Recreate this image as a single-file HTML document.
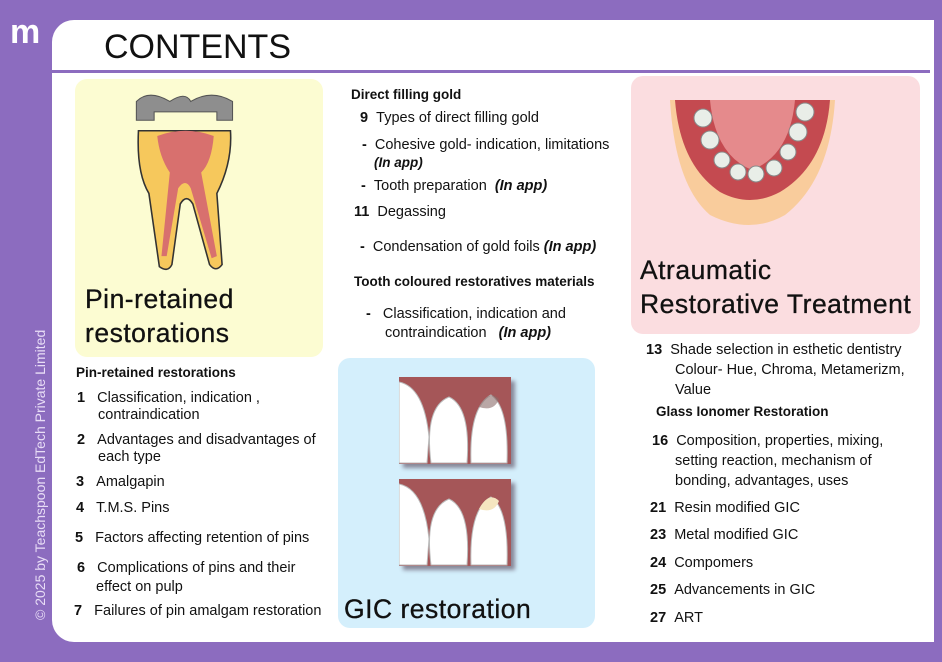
<!DOCTYPE html>
<html><head><meta charset="utf-8"><style>
body{margin:0;width:942px;height:662px;background:#8c6cbf;position:relative;overflow:hidden;font-family:"Liberation Sans","DejaVu Sans",sans-serif;color:#111}
.panel{position:absolute;left:52px;top:20px;width:882px;height:622px;background:#fff;border-radius:22px 0 0 22px}
.t{position:absolute;font-size:14.5px;white-space:nowrap;line-height:20px}
.b{font-weight:bold}
.h{position:absolute;font-size:26.5px;line-height:34px;color:#111;letter-spacing:0.5px;-webkit-text-stroke:0.3px #111}
.box{position:absolute;border-radius:12px}
</style></head><body>
<div class="panel"></div>
<div style="position:absolute;left:52px;top:70px;width:878px;height:3px;background:#8c6cbf"></div>
<div style="position:absolute;left:10px;top:14px;color:#fff;font-weight:bold;font-size:34px;line-height:36px">m</div>
<div style="position:absolute;left:104px;top:25px;font-size:34px;line-height:44px">CONTENTS</div>
<div style="position:absolute;left:32px;top:620px;transform:rotate(-90deg);transform-origin:0 0;color:#e8ddf6;font-size:14px;white-space:nowrap">© 2025 by Teachspoon EdTech Private Limited</div>

<div class="box" style="left:75px;top:79px;width:248px;height:278px;background:#fcfcd2"></div>
<svg style="position:absolute;left:128px;top:88px" width="115" height="190" viewBox="0 0 110 180">
<path d="M10 40 Q8 80 20 100 L30 170 Q38 176 42 168 L50 110 Q56 100 62 110 L78 168 Q84 176 90 168 L85 100 Q100 70 98 40 Z" fill="#f6c85c" stroke="#333" stroke-width="1.5"/>
<path d="M28 45 Q55 35 82 45 Q80 70 70 80 L85 160 L80 162 L60 95 Q55 85 48 95 L37 160 L32 160 L40 80 Q30 65 28 45Z" fill="#d8706e"/>
<path d="M8 12 Q20 0 40 12 Q55 2 60 12 Q80 0 100 12 L100 30 L85 30 L85 22 L25 22 L25 30 L8 30Z" fill="#8e8e8e" stroke="#555"/>
</svg>
<div class="h" style="left:85px;top:282px">Pin-retained<br>restorations</div>

<div class="box" style="left:338px;top:358px;width:257px;height:270px;background:#d4effc"></div>
<div style="position:absolute;left:399px;top:377px;width:112px;height:87px;background:#a55658;box-shadow:4px 4px 4px #889"></div>
<div style="position:absolute;left:399px;top:479px;width:112px;height:87px;background:#a55658;box-shadow:4px 4px 4px #889"></div>
<svg style="position:absolute;left:399px;top:377px" width="112" height="190">
<g fill="#fff" stroke="#bbb"><path d="M0 5 Q25 10 30 60 L28 86 L0 86Z"/><path d="M32 86 Q25 30 50 20 Q72 30 68 86Z"/><path d="M72 86 Q70 30 92 18 Q110 30 108 86Z"/>
<path d="M0 107 Q25 112 30 162 L28 188 L0 188Z"/><path d="M32 188 Q25 132 50 122 Q72 132 68 188Z"/><path d="M72 188 Q70 132 92 120 Q110 132 108 188Z"/></g>
<path d="M80 30 Q90 12 100 22 Q95 35 80 30Z" fill="#8a6d6a" opacity=".6"/>
<path d="M80 132 Q90 114 100 124 Q95 137 80 132Z" fill="#f5e6c0"/>
</svg>
<div class="h" style="left:344px;top:592px">GIC restoration</div>

<div class="box" style="left:631px;top:76px;width:289px;height:258px;background:#fbdde0"></div>
<svg style="position:absolute;left:670px;top:100px" width="180" height="130">
<path d="M0 0 L165 0 Q160 80 115 115 Q80 135 40 115 Q5 85 0 0Z" fill="#f9cc9c"/>
<path d="M5 0 L160 0 Q155 65 110 92 Q80 108 50 92 Q10 65 5 0Z" fill="#c44a50"/>
<path d="M40 0 L125 0 Q120 55 82 70 Q45 55 40 0Z" fill="#e58a8c"/>
<g fill="#e9eee8" stroke="#888"><circle cx="33" cy="18" r="9"/><circle cx="40" cy="40" r="9"/><circle cx="52" cy="60" r="8"/><circle cx="68" cy="72" r="8"/><circle cx="86" cy="74" r="8"/><circle cx="104" cy="68" r="8"/><circle cx="118" cy="52" r="8"/><circle cx="128" cy="32" r="9"/><circle cx="135" cy="12" r="9"/></g>
</svg>
<div class="h" style="left:640px;top:253px">Atraumatic<br>Restorative Treatment</div>

<div class="t b" style="left:351px;top:85px;font-size:13.5px">Direct filling gold</div>
<div class="t" style="left:360px;top:108px"><b>9</b>&nbsp;&nbsp;Types of direct filling gold</div>
<div class="t" style="left:362px;top:135px"><b>-</b>&nbsp;&nbsp;Cohesive gold- indication, limitations</div>
<div class="t b" style="left:374px;top:153px;font-style:italic;font-size:13.5px">(In app)</div>
<div class="t" style="left:361px;top:176px"><b>-</b>&nbsp;&nbsp;Tooth preparation&nbsp;&nbsp;<b><i>(In app)</i></b></div>
<div class="t" style="left:354px;top:202px"><b>11</b>&nbsp;&nbsp;Degassing</div>
<div class="t" style="left:360px;top:237px"><b>-</b>&nbsp;&nbsp;Condensation of gold foils&nbsp;<b><i>(In app)</i></b></div>
<div class="t b" style="left:354px;top:272px;font-size:13.5px">Tooth coloured restoratives materials</div>
<div class="t" style="left:366px;top:304px"><b>-</b>&nbsp;&nbsp;&nbsp;Classification, indication and</div>
<div class="t" style="left:385px;top:323px">contraindication&nbsp;&nbsp;&nbsp;<b><i>(In app)</i></b></div>

<div class="t b" style="left:76px;top:363px;font-size:13.5px">Pin-retained restorations</div>
<div class="t" style="left:77px;top:388px"><b>1</b>&nbsp;&nbsp;&nbsp;Classification, indication ,</div>
<div class="t" style="left:98px;top:405px">contraindication</div>
<div class="t" style="left:77px;top:430px"><b>2</b>&nbsp;&nbsp;&nbsp;Advantages and disadvantages of</div>
<div class="t" style="left:98px;top:447px">each type</div>
<div class="t" style="left:76px;top:472px"><b>3</b>&nbsp;&nbsp;&nbsp;Amalgapin</div>
<div class="t" style="left:76px;top:498px"><b>4</b>&nbsp;&nbsp;&nbsp;T.M.S. Pins</div>
<div class="t" style="left:75px;top:528px"><b>5</b>&nbsp;&nbsp;&nbsp;Factors affecting retention of pins</div>
<div class="t" style="left:77px;top:558px"><b>6</b>&nbsp;&nbsp;&nbsp;Complications of pins and their</div>
<div class="t" style="left:96px;top:577px">effect on pulp</div>
<div class="t" style="left:74px;top:601px"><b>7</b>&nbsp;&nbsp;&nbsp;Failures of pin amalgam restoration</div>

<div class="t" style="left:646px;top:340px"><b>13</b>&nbsp;&nbsp;Shade selection in esthetic dentistry</div>
<div class="t" style="left:675px;top:360px">Colour- Hue, Chroma, Metamerizm,</div>
<div class="t" style="left:675px;top:380px">Value</div>
<div class="t b" style="left:656px;top:402px;font-size:13.5px">Glass Ionomer Restoration</div>
<div class="t" style="left:652px;top:431px"><b>16</b>&nbsp;&nbsp;Composition, properties, mixing,</div>
<div class="t" style="left:675px;top:451px">setting reaction, mechanism of</div>
<div class="t" style="left:675px;top:471px">bonding, advantages, uses</div>
<div class="t" style="left:650px;top:498px"><b>21</b>&nbsp;&nbsp;Resin modified GIC</div>
<div class="t" style="left:650px;top:525px"><b>23</b>&nbsp;&nbsp;Metal modified GIC</div>
<div class="t" style="left:650px;top:553px"><b>24</b>&nbsp;&nbsp;Compomers</div>
<div class="t" style="left:650px;top:580px"><b>25</b>&nbsp;&nbsp;Advancements in GIC</div>
<div class="t" style="left:650px;top:608px"><b>27</b>&nbsp;&nbsp;ART</div>
</body></html>
